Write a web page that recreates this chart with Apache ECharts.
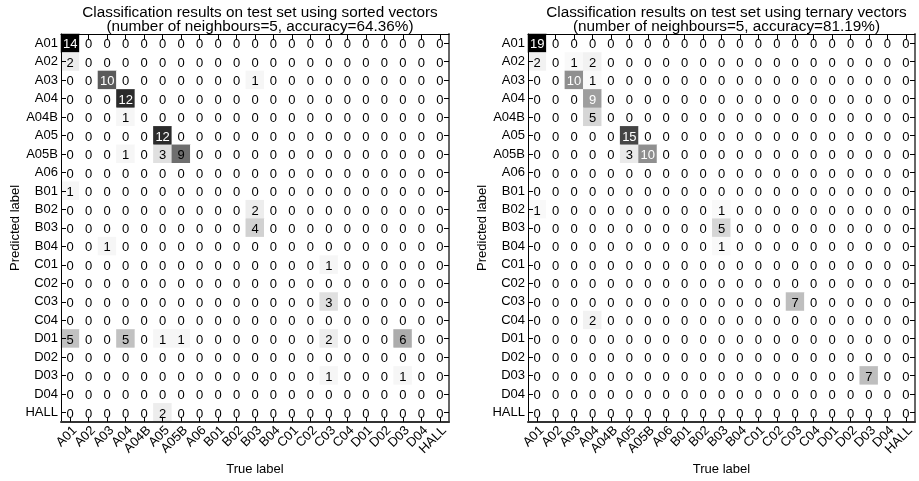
<!DOCTYPE html>
<html>
<head>
<meta charset="utf-8">
<script src="https://cdn.jsdelivr.net/npm/echarts@6/dist/echarts.min.js"></script>
<style>
  html, body { margin: 0; padding: 0; background: #ffffff; }
  #chart { width: 919px; height: 481px; }
</style>
</head>
<body>
<div id="chart"></div>
<script>
// Class labels shared by both confusion matrices (rows: predicted, columns: true)
const classLabels = ['A01', 'A02', 'A03', 'A04', 'A04B', 'A05', 'A05B', 'A06', 'B01', 'B02', 'B03',
  'B04', 'C01', 'C02', 'C03', 'C04', 'D01', 'D02', 'D03', 'D04', 'HALL'];

// kNN on sorted vectors
const sortedCounts = [
  [14, 0, 0, 0, 0, 0, 0, 0, 0, 0, 0, 0, 0, 0, 0, 0, 0, 0, 0, 0, 0], // A01
  [ 2, 0, 0, 0, 0, 0, 0, 0, 0, 0, 0, 0, 0, 0, 0, 0, 0, 0, 0, 0, 0], // A02
  [ 0, 0,10, 0, 0, 0, 0, 0, 0, 0, 1, 0, 0, 0, 0, 0, 0, 0, 0, 0, 0], // A03
  [ 0, 0, 0,12, 0, 0, 0, 0, 0, 0, 0, 0, 0, 0, 0, 0, 0, 0, 0, 0, 0], // A04
  [ 0, 0, 0, 1, 0, 0, 0, 0, 0, 0, 0, 0, 0, 0, 0, 0, 0, 0, 0, 0, 0], // A04B
  [ 0, 0, 0, 0, 0,12, 0, 0, 0, 0, 0, 0, 0, 0, 0, 0, 0, 0, 0, 0, 0], // A05
  [ 0, 0, 0, 1, 0, 3, 9, 0, 0, 0, 0, 0, 0, 0, 0, 0, 0, 0, 0, 0, 0], // A05B
  [ 0, 0, 0, 0, 0, 0, 0, 0, 0, 0, 0, 0, 0, 0, 0, 0, 0, 0, 0, 0, 0], // A06
  [ 1, 0, 0, 0, 0, 0, 0, 0, 0, 0, 0, 0, 0, 0, 0, 0, 0, 0, 0, 0, 0], // B01
  [ 0, 0, 0, 0, 0, 0, 0, 0, 0, 0, 2, 0, 0, 0, 0, 0, 0, 0, 0, 0, 0], // B02
  [ 0, 0, 0, 0, 0, 0, 0, 0, 0, 0, 4, 0, 0, 0, 0, 0, 0, 0, 0, 0, 0], // B03
  [ 0, 0, 1, 0, 0, 0, 0, 0, 0, 0, 0, 0, 0, 0, 0, 0, 0, 0, 0, 0, 0], // B04
  [ 0, 0, 0, 0, 0, 0, 0, 0, 0, 0, 0, 0, 0, 0, 1, 0, 0, 0, 0, 0, 0], // C01
  [ 0, 0, 0, 0, 0, 0, 0, 0, 0, 0, 0, 0, 0, 0, 0, 0, 0, 0, 0, 0, 0], // C02
  [ 0, 0, 0, 0, 0, 0, 0, 0, 0, 0, 0, 0, 0, 0, 3, 0, 0, 0, 0, 0, 0], // C03
  [ 0, 0, 0, 0, 0, 0, 0, 0, 0, 0, 0, 0, 0, 0, 0, 0, 0, 0, 0, 0, 0], // C04
  [ 5, 0, 0, 5, 0, 1, 1, 0, 0, 0, 0, 0, 0, 0, 2, 0, 0, 0, 6, 0, 0], // D01
  [ 0, 0, 0, 0, 0, 0, 0, 0, 0, 0, 0, 0, 0, 0, 0, 0, 0, 0, 0, 0, 0], // D02
  [ 0, 0, 0, 0, 0, 0, 0, 0, 0, 0, 0, 0, 0, 0, 1, 0, 0, 0, 1, 0, 0], // D03
  [ 0, 0, 0, 0, 0, 0, 0, 0, 0, 0, 0, 0, 0, 0, 0, 0, 0, 0, 0, 0, 0], // D04
  [ 0, 0, 0, 0, 0, 2, 0, 0, 0, 0, 0, 0, 0, 0, 0, 0, 0, 0, 0, 0, 0]  // HALL
];

// kNN on ternary vectors
const ternaryCounts = [
  [19, 0, 0, 0, 0, 0, 0, 0, 0, 0, 0, 0, 0, 0, 0, 0, 0, 0, 0, 0, 0], // A01
  [ 2, 0, 1, 2, 0, 0, 0, 0, 0, 0, 0, 0, 0, 0, 0, 0, 0, 0, 0, 0, 0], // A02
  [ 0, 0,10, 1, 0, 0, 0, 0, 0, 0, 0, 0, 0, 0, 0, 0, 0, 0, 0, 0, 0], // A03
  [ 0, 0, 0, 9, 0, 0, 0, 0, 0, 0, 0, 0, 0, 0, 0, 0, 0, 0, 0, 0, 0], // A04
  [ 0, 0, 0, 5, 0, 0, 0, 0, 0, 0, 0, 0, 0, 0, 0, 0, 0, 0, 0, 0, 0], // A04B
  [ 0, 0, 0, 0, 0,15, 0, 0, 0, 0, 0, 0, 0, 0, 0, 0, 0, 0, 0, 0, 0], // A05
  [ 0, 0, 0, 0, 0, 3,10, 0, 0, 0, 0, 0, 0, 0, 0, 0, 0, 0, 0, 0, 0], // A05B
  [ 0, 0, 0, 0, 0, 0, 0, 0, 0, 0, 0, 0, 0, 0, 0, 0, 0, 0, 0, 0, 0], // A06
  [ 0, 0, 0, 0, 0, 0, 0, 0, 0, 0, 0, 0, 0, 0, 0, 0, 0, 0, 0, 0, 0], // B01
  [ 1, 0, 0, 0, 0, 0, 0, 0, 0, 0, 1, 0, 0, 0, 0, 0, 0, 0, 0, 0, 0], // B02
  [ 0, 0, 0, 0, 0, 0, 0, 0, 0, 0, 5, 0, 0, 0, 0, 0, 0, 0, 0, 0, 0], // B03
  [ 0, 0, 0, 0, 0, 0, 0, 0, 0, 0, 1, 0, 0, 0, 0, 0, 0, 0, 0, 0, 0], // B04
  [ 0, 0, 0, 0, 0, 0, 0, 0, 0, 0, 0, 0, 0, 0, 0, 0, 0, 0, 0, 0, 0], // C01
  [ 0, 0, 0, 0, 0, 0, 0, 0, 0, 0, 0, 0, 0, 0, 0, 0, 0, 0, 0, 0, 0], // C02
  [ 0, 0, 0, 0, 0, 0, 0, 0, 0, 0, 0, 0, 0, 0, 7, 0, 0, 0, 0, 0, 0], // C03
  [ 0, 0, 0, 2, 0, 0, 0, 0, 0, 0, 0, 0, 0, 0, 0, 0, 0, 0, 0, 0, 0], // C04
  [ 0, 0, 0, 0, 0, 0, 0, 0, 0, 0, 0, 0, 0, 0, 0, 0, 0, 0, 0, 0, 0], // D01
  [ 0, 0, 0, 0, 0, 0, 0, 0, 0, 0, 0, 0, 0, 0, 0, 0, 0, 0, 0, 0, 0], // D02
  [ 0, 0, 0, 0, 0, 0, 0, 0, 0, 0, 0, 0, 0, 0, 0, 0, 0, 0, 7, 0, 0], // D03
  [ 0, 0, 0, 0, 0, 0, 0, 0, 0, 0, 0, 0, 0, 0, 0, 0, 0, 0, 0, 0, 0], // D04
  [ 0, 0, 0, 0, 0, 0, 0, 0, 0, 0, 0, 0, 0, 0, 0, 0, 0, 0, 0, 0, 0]  // HALL
];

const sortedTitle = 'Classification results on test set using sorted vectors\n(number of neighbours=5, accuracy=64.36%)';
const ternaryTitle = 'Classification results on test set using ternary vectors\n(number of neighbours=5, accuracy=81.19%)';
const xAxisName = 'True label';
const yAxisName = 'Predicted label';

const FONT = "'Liberation Sans', Arial, Helvetica, sans-serif";
// 9-step grey ramp, white for zero up to black for the largest count
const greyRamp = ['#ffffff', '#f0f0f0', '#d9d9d9', '#bdbdbd', '#969696', '#737373', '#525252', '#252525', '#000000'];

const panels = [
  { counts: sortedCounts,  title: sortedTitle,  lightTextFrom: 10,
    grid: { left: 61,  top: 34, width: 388, height: 389 }, yNameGap: 32 },
  { counts: ternaryCounts, title: ternaryTitle, lightTextFrom: 9,
    grid: { left: 528, top: 34, width: 387, height: 389 }, yNameGap: 33 }
];

function cellItems(counts, lightTextFrom) {
  const items = [];
  counts.forEach((row, r) => {
    row.forEach((v, c) => {
      items.push({ value: [c, r, v], label: { color: v >= lightTextFrom ? '#ffffff' : '#000000' } });
    });
  });
  return items;
}

function tickStyle() {
  return { show: true, inside: true, alignWithLabel: true, interval: 0, length: 5,
    lineStyle: { color: '#000000', width: 1 } };
}

const option = {
  animation: false,
  backgroundColor: '#ffffff',
  textStyle: { fontFamily: FONT },
  title: [], grid: [], xAxis: [], yAxis: [], series: [], visualMap: []
};

panels.forEach((p, i) => {
  const g = p.grid;
  option.title.push({
    text: p.title,
    left: g.left + g.width / 2,
    top: 1,
    textAlign: 'center',
    textStyle: { fontFamily: FONT, fontSize: 15.3, fontWeight: 'normal', color: '#000', lineHeight: 14 }
  });
  option.grid.push({ left: g.left, top: g.top, width: g.width, height: g.height, containLabel: false });

  // bottom axis with labels, top axis closing the frame
  option.xAxis.push({
    gridIndex: i, type: 'category', data: classLabels, position: 'bottom', z: 10,
    axisLine: { show: true, lineStyle: { color: '#333', width: 2 } },
    axisTick: tickStyle(),
    axisLabel: { interval: 0, rotate: 45, margin: 2, verticalAlign: 'top', fontSize: 13, color: '#000', fontFamily: FONT },
    splitLine: { show: false },
    name: xAxisName, nameLocation: 'middle', nameGap: 40,
    nameTextStyle: { fontSize: 13, color: '#000', fontFamily: FONT }
  });
  option.xAxis.push({
    gridIndex: i, type: 'category', data: classLabels, position: 'top', z: 10,
    axisLine: { show: true, lineStyle: { color: '#000', width: 1 } },
    axisTick: tickStyle(), axisLabel: { show: false }, splitLine: { show: false }
  });

  // left axis with labels, right axis closing the frame
  option.yAxis.push({
    gridIndex: i, type: 'category', data: classLabels, inverse: true, position: 'left', z: 10,
    axisLine: { show: true, lineStyle: { color: '#000', width: 1 } },
    axisTick: tickStyle(),
    axisLabel: { interval: 0, margin: 3, fontSize: 13, color: '#000', fontFamily: FONT, padding: [3, 0, 0, 0] },
    splitLine: { show: false },
    name: yAxisName, nameLocation: 'middle', nameGap: p.yNameGap, nameRotate: 90,
    nameTextStyle: { fontSize: 13, color: '#000', fontFamily: FONT }
  });
  option.yAxis.push({
    gridIndex: i, type: 'category', data: classLabels, inverse: true, position: 'right', z: 10,
    axisLine: { show: true, lineStyle: { color: '#666', width: 2 } },
    axisTick: tickStyle(), axisLabel: { show: false }, splitLine: { show: false }
  });

  option.series.push({
    type: 'heatmap',
    z: 1,
    xAxisIndex: 2 * i, yAxisIndex: 2 * i,
    data: cellItems(p.counts, p.lightTextFrom),
    itemStyle: { borderWidth: 0 },
    label: { show: true, fontSize: 13, fontFamily: FONT, offset: [0, 1.5],
      formatter: (d) => String(d.value[2]) },
    emphasis: { disabled: true }
  });

  option.visualMap.push({
    type: 'continuous', show: false, seriesIndex: i, dimension: 2,
    min: 0, max: Math.max(...p.counts.flat()),
    inRange: { color: greyRamp }
  });
});

const chart = echarts.init(document.getElementById('chart'), null, { renderer: 'canvas' });
chart.setOption(option);
</script>
</body>
</html>
